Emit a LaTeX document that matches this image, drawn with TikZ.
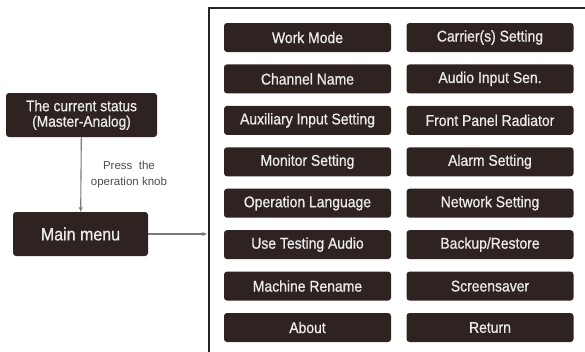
\documentclass[tikz,border=0pt]{standalone}
\usepackage{fontspec}
\setmainfont{Liberation Sans}
\newfontfamily\narrowfont[FakeStretch=0.9,FakeBold=0.8]{Liberation Sans}
\usetikzlibrary{arrows.meta}
\definecolor{btn}{HTML}{2E2321}
\definecolor{arr}{HTML}{7A7A7A}
\begin{document}
\begin{tikzpicture}[x=1pt,y=-1pt,
  btnbox/.style={fill=btn, rounded corners=3pt, text=white!92!black, minimum width=167pt, minimum height=29pt, inner sep=0pt, font=\narrowfont\fontsize{15.5}{17}\selectfont},
  stbox/.style={fill=btn, rounded corners=3pt, text=white!92!black, inner sep=0pt, align=center},
  conn/.style={draw=arr, line width=1.1pt, -{Stealth[length=5pt,width=4pt]}}]
\useasboundingbox (0,0) rectangle (585,351);
\begin{scope}
\clip (0,0) rectangle (585,351);
\draw[line width=1.4pt, draw=black!85] (590,8) -- (209,8) -- (209,360);
\end{scope}
% left boxes
\node[stbox, minimum width=151pt, minimum height=44pt, font=\narrowfont\fontsize{15.3}{16.5}\selectfont] (cur) at (81.5,115) {The current status\\[-1pt](Master-Analog)};
\node[stbox, minimum width=135pt, minimum height=44pt, font=\narrowfont\fontsize{17.8}{20}\selectfont] (main) at (80.5,234) {Main menu};
\coordinate (menu) at (207,234);
\draw[conn] (cur) -- (main) node[midway, right=6pt, align=center, text=black!70, font=\fontsize{11.5}{16}\selectfont] {Press\ \ the\\operation knob};
\draw[conn] (main) -- (menu);
% buttons
\foreach \n/\t [count=\i from 0] in {a/Work Mode, b/Channel Name, c/Auxiliary Input Setting, d/Monitor Setting, e/Operation Language, f/Use Testing Audio, g/Machine Rename, h/About}{
  \node[btnbox] (L\n) at (307.5, 37.5+41.43*\i) {\t};
}
\foreach \n/\t [count=\i from 0] in {a/Carrier(s) Setting, b/Audio Input Sen., c/Front Panel Radiator, d/Alarm Setting, e/Network Setting, f/{Backup/Restore}, g/Screensaver, h/Return}{
  \node[btnbox] (R\n) at (490, 37.5+41.43*\i) {\t};
}
\end{tikzpicture}
\end{document}
